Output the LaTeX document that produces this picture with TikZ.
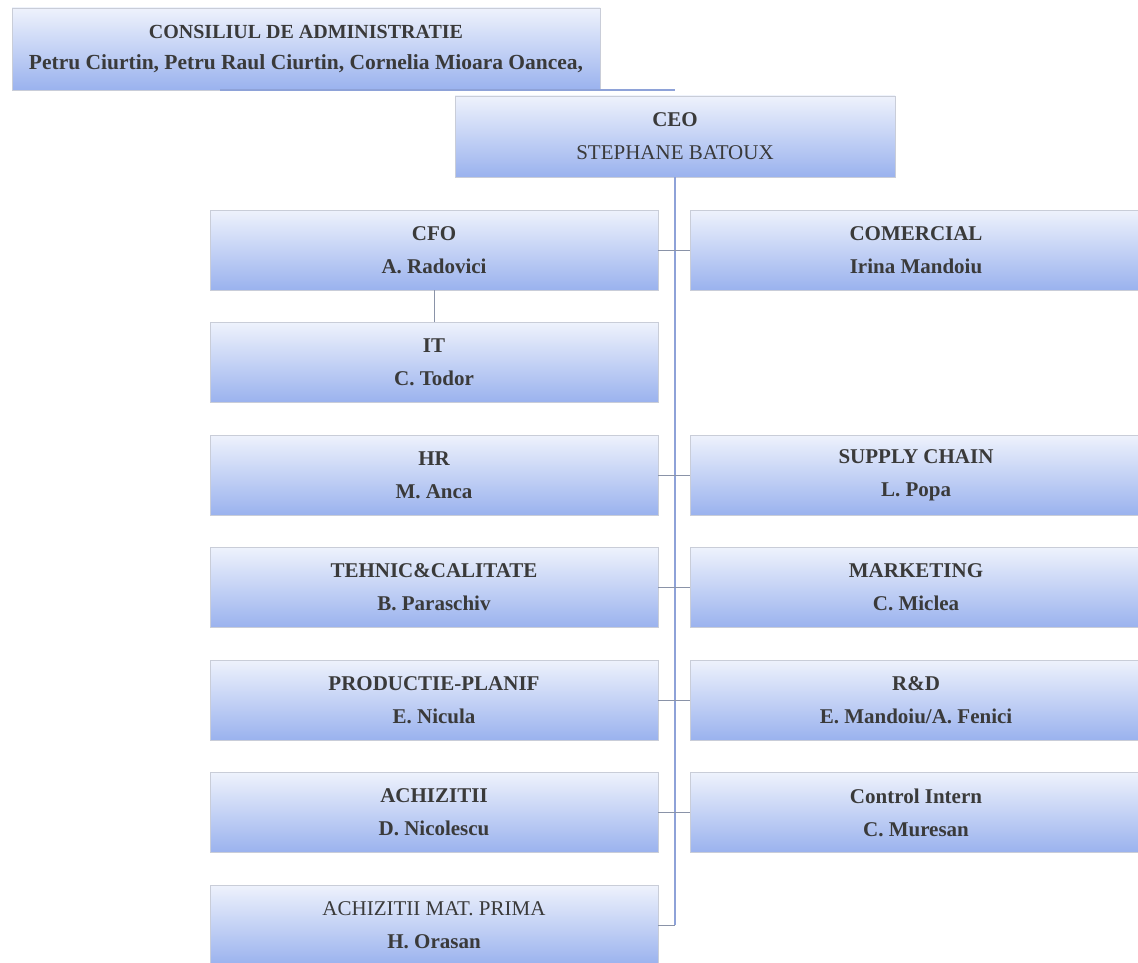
\documentclass[tikz,border=0pt]{standalone}
\usepackage{fontspec}
\setmainfont{Liberation Serif}
\begin{document}
\begin{tikzpicture}[x=1pt,y=-1pt,
  box/.style={rectangle, draw=boxline, line width=0.8pt, top color=boxtop, bottom color=boxbot,
    minimum width=448pt, minimum height=80pt, align=center, inner sep=0pt,
    text=txt, font=\fontsize{21}{25}\selectfont\bfseries},
  trunk/.style={draw=trunkc, line width=2.5pt},
  stub/.style={draw=stubc, line width=0.8pt}]
\definecolor{boxtop}{HTML}{EEF2FC}
\definecolor{boxbot}{HTML}{9AB2EE}
\definecolor{boxline}{HTML}{C9CDD8}
\definecolor{txt}{HTML}{3A3A3A}
\definecolor{trunkc}{HTML}{8EA2D8}
\definecolor{stubc}{HTML}{8A93A8}
\useasboundingbox (0,0) rectangle (1138,963);
\fill[white] (0,0) rectangle (1138,963);

\node[box, minimum width=588pt, minimum height=82pt, font=\fontsize{20}{24}\selectfont\bfseries] (board) at (306,49)
  {CONSILIUL DE ADMINISTRATIE\\[7pt]\fontsize{21.5}{24}\selectfont Petru Ciurtin, Petru Raul Ciurtin, Cornelia Mioara Oancea,};
\node[box, minimum width=440pt, minimum height=81pt] (ceo) at (675,136.5)
  {CEO\\[8pt]\mdseries STEPHANE BATOUX};

% left column
\node[box] (cfo) at (434,250) {CFO\\[8pt]A. Radovici};
\node[box] (it) at (434,362.5) {IT\\[8pt]C. Todor};
\node[box] (hr) at (434,475) {HR\\[8pt]M. Anca};
\node[box] (teh) at (434,587.5) {TEHNIC\&CALITATE\\[8pt]B. Paraschiv};
\node[box] (prod) at (434,700) {PRODUCTIE-PLANIF\\[8pt]E. Nicula};
\node[box] (ach) at (434,812.5) {ACHIZITII\\[8pt]D. Nicolescu};
\node[box] (achm) at (434,925) {\mdseries ACHIZITII MAT. PRIMA\\[8pt]H. Orasan};

% right column
\node[box, minimum width=452pt] (com) at (916,250) {COMERCIAL\\[8pt]Irina Mandoiu};
\node[box, minimum width=452pt] (sc) at (916,475) {SUPPLY CHAIN\\[8pt]L. Popa};
\node[box, minimum width=452pt] (mkt) at (916,587.5) {MARKETING\\[8pt]C. Miclea};
\node[box, minimum width=452pt] (rd) at (916,700) {R\&D\\[8pt]E. Mandoiu/A. Fenici};
\node[box, minimum width=452pt] (ci) at (916,812.5) {Control Intern\\[8pt]C. Muresan};

% connectors
\draw[trunkc, line width=2pt] ([xshift=-86pt]board.south) -- (board.south -| ceo.north);
\coordinate (tend) at (ceo.south |- achm.east);
\draw[trunk] (ceo.south) -- (tend);
\draw[stub] (tend) -- (achm.east);
\foreach \n in {cfo,hr,teh,prod,ach} {\draw[stub] (\n.east) -- (\n.east -| ceo.south);}
\foreach \n in {com,sc,mkt,rd,ci} {\draw[stub] (\n.west -| ceo.south) -- (\n.west);}
\draw[stub] (cfo.south) -- (it.north);
\end{tikzpicture}
\end{document}
